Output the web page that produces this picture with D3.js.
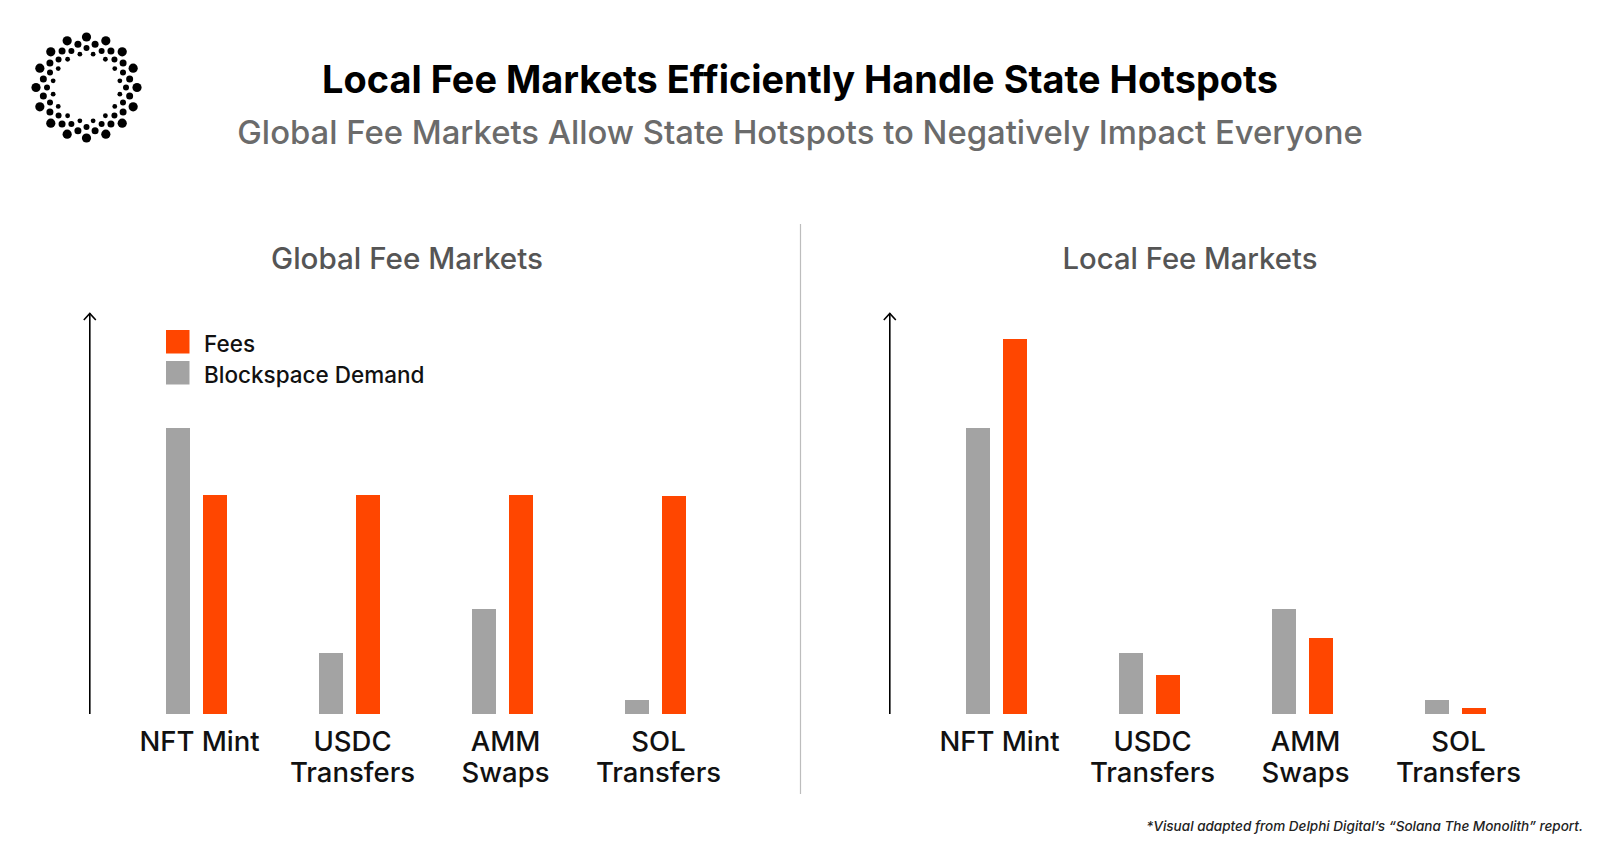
<!DOCTYPE html>
<html>
<head>
<meta charset="utf-8">
<script src="https://cdn.jsdelivr.net/npm/d3@7"></script>
<style>
  html, body { margin: 0; padding: 0; background: #fff; }
  svg { display: block; font-family: Inter, "Noto Sans", sans-serif; }
</style>
</head>
<body>
<div class="vis-fees"></div>
<script>
// data (relative units, 0..400)
const categories = [['NFT Mint'], ['USDC', 'Transfers'], ['AMM', 'Swaps'], ['SOL', 'Transfers']];
const seriesKeys = ['demand', 'fees'];
const seriesNames = { fees: 'Fees', demand: 'Blockspace Demand' };
const demandValues = [286, 61, 105, 14];
const globalFeeValues = [219, 219, 219, 218];
const localFeeValues = [375, 39, 76, 6];
const panelTitles = ['Global Fee Markets', 'Local Fee Markets'];

const title = 'Local Fee Markets Efficiently Handle State Hotspots';
const subtitle = 'Global Fee Markets Allow State Hotspots to Negatively Impact Everyone';
const footnote = '*Visual adapted from Delphi Digital\u2019s \u201cSolana The Monolith\u201d report.';

const colors = { fees: '#ff4600', demand: '#a3a3a3' };

const draw = () => {
  const width = 1600;
  const height = 848;
  const svg = d3.select('.vis-fees')
    .append('svg')
    .attr('width', width)
    .attr('height', height);

  // squeeze text to a target width
  const fit = (sel, target) => {
    const w = sel.node().getComputedTextLength();
    const fs = parseFloat(sel.attr('font-size'));
    sel.attr('font-size', (fs * target / w).toFixed(2));
  };

  // logo: four rings of 16 dots
  const rings = [
    { r: 50.5, off: 0, size: 4.6 },
    { r: 44, off: 0.5, size: 3.5 },
    { r: 39.5, off: 0, size: 3.0 },
    { r: 34, off: 0.5, size: 2.4 }
  ];
  const dots = [];
  rings.forEach((ring) => {
    d3.range(16).forEach((i) => {
      const a = (i + ring.off) * Math.PI * 2 / 16;
      dots.push({ x: Math.sin(a) * ring.r, y: -Math.cos(a) * ring.r, size: ring.size });
    });
  });
  svg.append('g')
    .attr('transform', 'translate(86.5,87.5)')
    .selectAll('circle')
    .data(dots)
    .join('circle')
    .attr('cx', (d) => d.x)
    .attr('cy', (d) => d.y)
    .attr('r', (d) => d.size)
    .attr('fill', '#000');

  // titles
  const t = svg.append('text')
    .attr('x', 800).attr('y', 93)
    .attr('text-anchor', 'middle')
    .attr('font-size', 38)
    .attr('font-weight', 700)
    .attr('fill', '#000')
    .text(title);
  fit(t, 956);

  const st = svg.append('text')
    .attr('x', 800).attr('y', 144)
    .attr('text-anchor', 'middle')
    .attr('font-size', 32)
    .attr('font-weight', 500)
    .attr('fill', '#6b6b6b')
    .text(subtitle);
  fit(st, 1126);

  // divider
  svg.append('line')
    .attr('x1', 800.5).attr('x2', 800.5)
    .attr('y1', 224).attr('y2', 794)
    .attr('stroke', '#bdbdbd')
    .attr('stroke-width', 1.2);

  const y = d3.scaleLinear().domain([0, 400]).range([714, 314]);
  const x0 = d3.scaleBand()
    .domain(categories.map((c) => c.join(' ')))
    .range([120, 732]);
  const x1 = d3.scaleBand()
    .domain(seriesKeys)
    .range([46, 107])
    .paddingInner(0.3514);

  const panels = [
    { dx: 0, titleX: 407, fees: globalFeeValues, legend: true },
    { dx: 800, titleX: 390, fees: localFeeValues, legend: false }
  ];

  panels.forEach((p, pi) => {
    const g = svg.append('g').attr('transform', `translate(${p.dx},0)`);

    const pt = g.append('text')
      .attr('x', p.titleX).attr('y', 269)
      .attr('text-anchor', 'middle')
      .attr('font-size', 28)
      .attr('font-weight', 500)
      .attr('fill', '#555')
      .text(panelTitles[pi]);
    fit(pt, pi === 0 ? 272 : 255);

    // axis arrow
    g.append('line')
      .attr('x1', 89.8).attr('x2', 89.8)
      .attr('y1', y(0)).attr('y2', y(400) - 1)
      .attr('stroke', '#000')
      .attr('stroke-width', 1.6);
    g.append('path')
      .attr('d', `M${89.8 - 6},${y(400) + 6} L89.8,${y(400) - 0.5} L${89.8 + 6},${y(400) + 6}`)
      .attr('fill', 'none')
      .attr('stroke', '#000')
      .attr('stroke-width', 1.6);

    const rows = categories.map((c, i) => ({
      key: c.join(' '),
      lines: c,
      demand: demandValues[i],
      fees: p.fees[i]
    }));

    const groups = g.selectAll('g.cat')
      .data(rows)
      .join('g')
      .attr('class', 'cat')
      .attr('transform', (d) => `translate(${x0(d.key)},0)`);

    groups.selectAll('rect')
      .data((d) => seriesKeys.map((k) => ({ k, v: d[k] })))
      .join('rect')
      .attr('x', (d) => x1(d.k))
      .attr('width', x1.bandwidth())
      .attr('y', (d) => y(d.v))
      .attr('height', (d) => y(0) - y(d.v))
      .attr('fill', (d) => colors[d.k]);

    groups.append('text')
      .attr('x', x0.bandwidth() / 2 + 3)
      .attr('text-anchor', 'middle')
      .attr('font-size', 27.5)
      .attr('font-weight', 500)
      .attr('fill', '#111')
      .selectAll('tspan')
      .data((d) => d.lines)
      .join('tspan')
      .attr('x', x0.bandwidth() / 2 + 3)
      .attr('y', (d, i) => 751 + i * 30.5)
      .text((d) => d);

    if (p.legend) {
      const legendKeys = ['fees', 'demand'];
      const lg = g.selectAll('g.legend')
        .data(legendKeys)
        .join('g')
        .attr('class', 'legend')
        .attr('transform', (d, i) => `translate(166,${330 + i * 31})`);
      lg.append('rect')
        .attr('width', 23.5)
        .attr('height', 23.5)
        .attr('fill', (d) => colors[d]);
      lg.append('text')
        .attr('x', 38)
        .attr('y', 21.5)
        .attr('font-size', 22.5)
        .attr('font-weight', 500)
        .attr('fill', '#111')
        .text((d) => seriesNames[d]);
    }
  });

  // footnote
  const fn = svg.append('text')
    .attr('x', 1583).attr('y', 831)
    .attr('text-anchor', 'end')
    .attr('font-size', 14)
    .attr('font-style', 'italic')
    .attr('font-weight', 500)
    .attr('fill', '#222')
    .text(footnote);
  fit(fn, 437);
};

draw();
</script>
</body>
</html>
